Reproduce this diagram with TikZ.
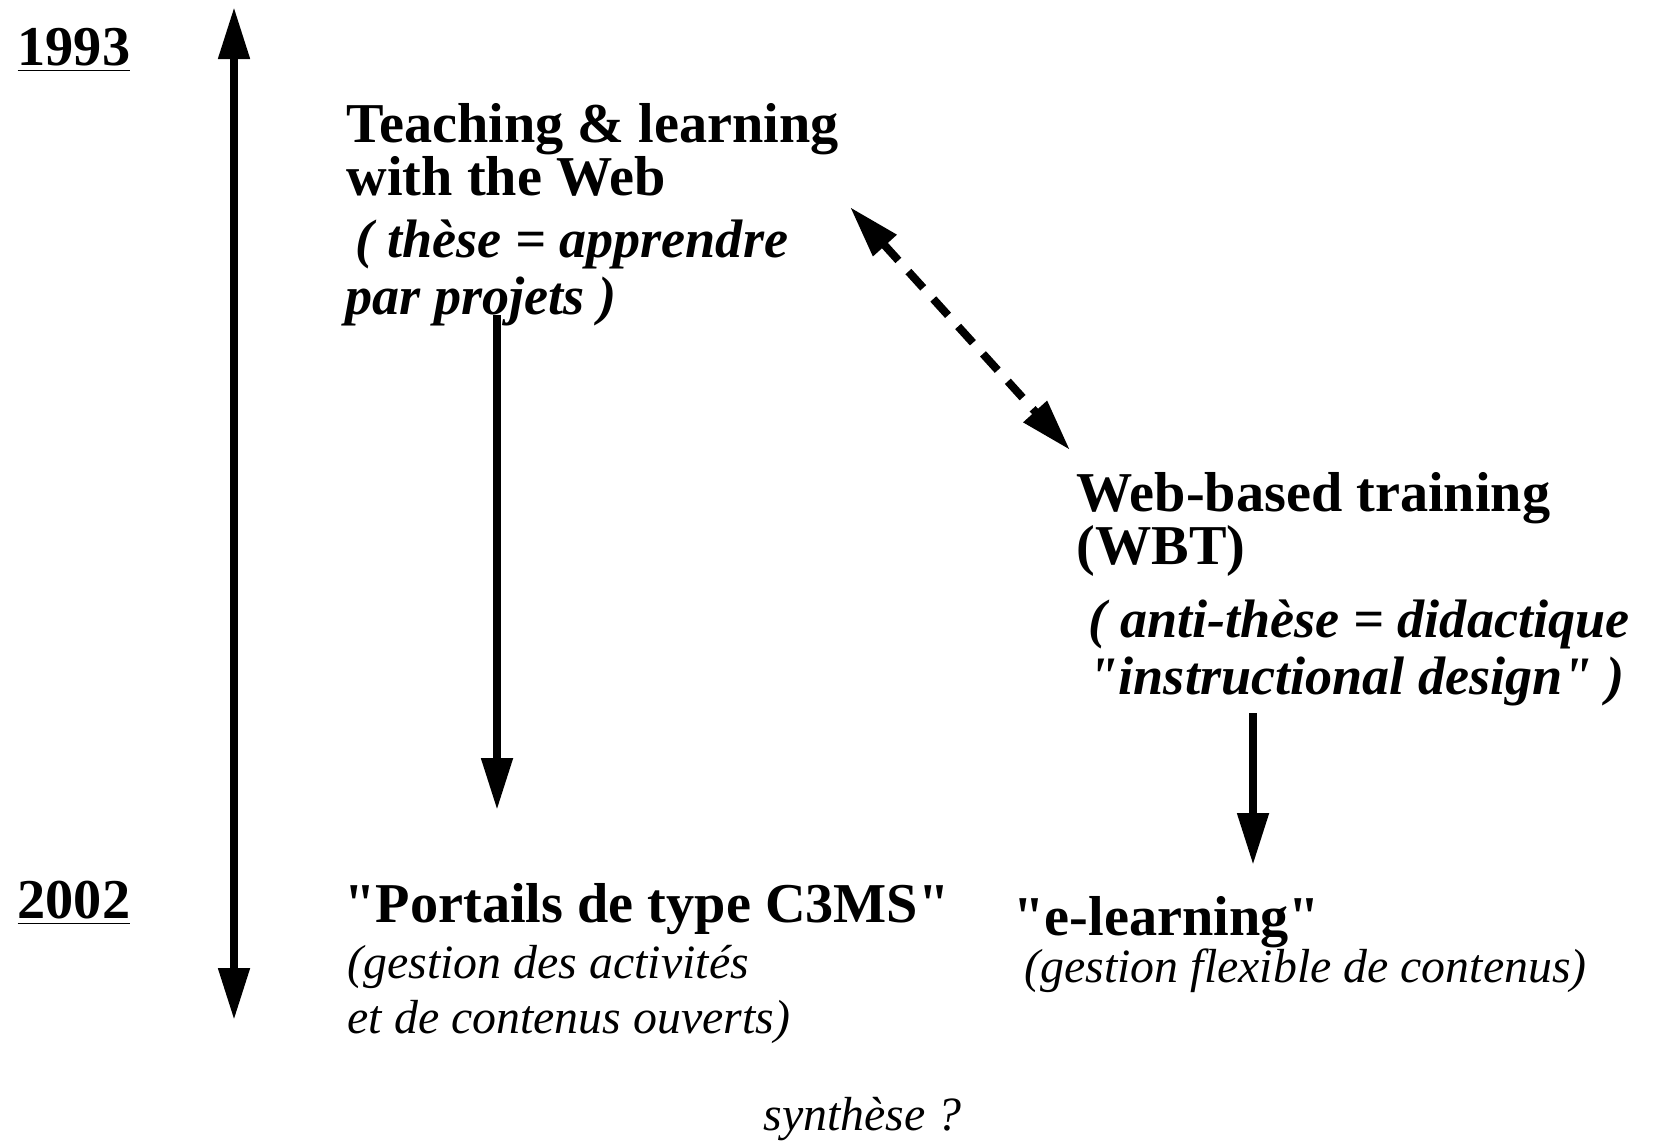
\documentclass[tikz,border=0pt]{standalone}
\usepackage{fontspec}
\setmainfont{Liberation Serif}[Ligatures=TeXOff]
\usetikzlibrary{arrows.meta,positioning}

\tikzset{
  annee/.style={anchor=base west, inner sep=0pt, font=\fontsize{16}{15}\selectfont\bfseries},
  titre/.style={anchor=base west, inner sep=0pt, align=left, font=\fontsize{16}{14.8}\selectfont\bfseries},
  these/.style={anchor=base west, inner sep=0pt, align=left, font=\fontsize{15.4}{16.2}\selectfont\bfseries\itshape},
  note/.style={anchor=base west, inner sep=0pt, align=left, font=\fontsize{13.6}{15.6}\selectfont\itshape},
  pointe/.tip={Triangle[length=0.52cm,width=0.30cm]},
  fleche/.style={line width=0.08cm, -pointe},
  fleches/.style={line width=0.08cm, pointe-pointe},
}

\begin{document}
\begin{tikzpicture}[x=0.01cm,y=-0.01cm]
\useasboundingbox (0,0) rectangle (1674,1141);

% years
\node[annee] (y1993) at (17,65) {\underline{1993}};
\node[annee] (y2002) at (17,918) {\underline{2002}};

% first branch (base = last line)
\node[titre] (web) at (346,195) {Teaching \& learning\\with the Web};
\node[these] (these) at (345,314) {\hspace{0.1cm}( thèse = apprendre\\par projets )};
\node[titre] (c3ms) at (344,922) {"Portails de type C3MS"};
\node[note] (c3msnote) at (347,1033) {(gestion des activités\\et de contenus ouverts)};

% second branch
\node[titre] (wbt) at (1076,564) {Web-based training\\(WBT)};
\node[these] (anti) at (1078,694) {\hspace{0.1cm}( anti-thèse = didactique\\\hspace{0.1cm}"instructional design" )};
\node[titre] (elearn) at (1013,935) {"e-learning"};
\node[note] (elearnnote) at (1024,982) {(gestion flexible de contenus)};

\node[note] (synth) at (763,1130) {synthèse ?};

% arrows
\coordinate (t0) at (234,7);
\coordinate (t1) at (234,1020);
\draw[fleches] (t0) -- (t1);

\coordinate (a0) at (497,315);
\coordinate (a1) at (497,810);
\draw[fleche] (a0) -- (a1);

\coordinate (d0) at (850,207);
\coordinate (d1) at (1070,450);
\draw[fleches, dash pattern=on 0.22cm off 0.15cm] (d0) -- (d1);

\coordinate (b0) at (1253,713);
\coordinate (b1) at (1253,865);
\draw[fleche] (b0) -- (b1);

\end{tikzpicture}
\end{document}
